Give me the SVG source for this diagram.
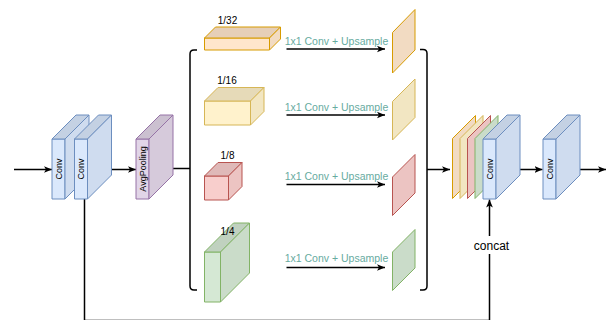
<svg xmlns="http://www.w3.org/2000/svg" width="607" height="320" viewBox="0 0 607 320">
<style>
text{font-family:"Liberation Sans",Arial,sans-serif;}
.lbl{font-size:10px;fill:#000;text-anchor:middle;}
.op{font-size:10.5px;fill:#67AB9F;text-anchor:middle;}
.rot{font-size:9px;fill:#000;text-anchor:middle;}
.ln{fill:none;stroke:#000;stroke-width:1.5;}
.arr{fill:none;stroke:#000;stroke-width:1.5;marker-end:url(#ah);}
.b{stroke:#6C8EBF;stroke-width:1;stroke-linejoin:round;}
.b .f{fill:#DAE8FC}.b .s{fill:#CFDCEF}.b .t{fill:#C4D1E3}
.p{stroke:#9673A6;stroke-width:1;stroke-linejoin:round;}
.p .f{fill:#E1D5E7}.p .s{fill:#D6CADB}.p .t{fill:#CBC0D0}
.o{stroke:#D79B00;stroke-width:1;stroke-linejoin:round;}
.o .f{fill:#FFE6CC}.o .s{fill:#F2DBC2}.o .t{fill:#E6CFB8}
.y{stroke:#D6B656;stroke-width:1;stroke-linejoin:round;}
.y .f{fill:#FFF2CC}.y .s{fill:#F2E6C2}.y .t{fill:#E6DAB8}
.r{stroke:#B85450;stroke-width:1;stroke-linejoin:round;}
.r .f{fill:#F8CECC}.r .s{fill:#ECC4C2}.r .t{fill:#DFB9B8}
.g{stroke:#82B366;stroke-width:1;stroke-linejoin:round;}
.g .f{fill:#D5E8D4}.g .s{fill:#CADCC9}.g .t{fill:#C0D1BF}
</style>
<defs>
<marker id="ah" viewBox="0 0 10 10" refX="10" refY="5" markerWidth="8" markerHeight="8" orient="auto" markerUnits="userSpaceOnUse">
<path d="M0,0.8 L10,5 L0,9.2 L2.5,5 z" fill="#000"/>
</marker>
</defs>

<g id="connectors">
<line class="arr" x1="14" y1="169.5" x2="52" y2="169.5"/>
<line class="arr" x1="99" y1="169.5" x2="136" y2="169.5"/>
<line class="ln" x1="158" y1="168.5" x2="190" y2="168.5"/>
<path class="ln" d="M197,50 L194,50 Q190,50 190,54 L190,286 Q190,290 194,290 L197,290"/>
<path class="ln" d="M420,49.5 L423,49.5 Q427,49.5 427,53.5 L427,286 Q427,290 423,290 L420,290"/>
<line class="arr" x1="286.5" y1="49" x2="385" y2="49"/>
<line class="arr" x1="286.5" y1="115" x2="385" y2="115"/>
<line class="arr" x1="286.5" y1="184.5" x2="385" y2="184.5"/>
<line class="arr" x1="286.5" y1="267.5" x2="385" y2="267.5"/>
<line class="arr" x1="427" y1="169.5" x2="450" y2="169.5"/>
<line class="arr" x1="505" y1="169.5" x2="542.5" y2="169.5"/>
<line class="arr" x1="569" y1="169.5" x2="606" y2="169.5"/>
<path class="arr" d="M84.5,199 L84.5,320.5 L489.5,320.5 L489.5,199.5"/>
</g>

<g id="conv1" class="b">
<rect class="f" x="52" y="139" width="13" height="60"/>
<polygon class="t" points="52,139 76,115 89,115 65,139"/>
<polygon class="s" points="65,139 89,115 89,175 65,199"/>
<text class="rot" stroke="none" transform="translate(58.5,169) rotate(-90)" y="3.2">Conv</text>
</g>
<g id="conv2" class="b">
<rect class="f" x="74.5" y="139" width="13" height="60"/>
<polygon class="t" points="74.5,139 98.5,115 111.5,115 87.5,139"/>
<polygon class="s" points="87.5,139 111.5,115 111.5,175 87.5,199"/>
<text class="rot" stroke="none" transform="translate(81,169) rotate(-90)" y="3.2">Conv</text>
</g>
<g id="avgpool" class="p">
<rect class="f" x="136" y="139" width="13" height="60"/>
<polygon class="t" points="136,139 160,115 173,115 149,139"/>
<polygon class="s" points="149,139 173,115 173,175 149,199"/>
<text class="rot" stroke="none" transform="translate(142.5,169) rotate(-90)" y="3.2">AvgPooling</text>
</g>

<g id="feat32" class="o">
<rect class="f" x="204.5" y="38" width="65" height="12"/>
<polygon class="t" points="204.5,38 215.5,27 280.5,27 269.5,38"/>
<polygon class="s" points="269.5,38 280.5,27 280.5,39 269.5,50"/>
<text class="lbl" stroke="none" x="227.5" y="24">1/32</text>
</g>
<g id="feat16" class="y">
<rect class="f" x="204.5" y="101" width="46" height="24"/>
<polygon class="t" points="204.5,101 218,87.5 264,87.5 250.5,101"/>
<polygon class="s" points="250.5,101 264,87.5 264,111.5 250.5,125"/>
<text class="lbl" stroke="none" x="227" y="84">1/16</text>
</g>
<g id="feat8" class="r">
<rect class="f" x="204.5" y="176" width="24" height="24"/>
<polygon class="t" points="204.5,176 218,162.5 242,162.5 228.5,176"/>
<polygon class="s" points="228.5,176 242,162.5 242,186.5 228.5,200"/>
<text class="lbl" stroke="none" x="227.5" y="159">1/8</text>
</g>
<g id="feat4" class="g">
<rect class="f" x="204.5" y="252" width="16" height="50"/>
<polygon class="t" points="204.5,252 233.5,223 249.5,223 220.5,252"/>
<polygon class="s" points="220.5,252 249.5,223 249.5,273 220.5,302"/>
<text class="lbl" stroke="none" x="227.5" y="234.5">1/4</text>
</g>

<g id="op-labels">
<text class="op" x="336.5" y="45">1x1 Conv + Upsample</text>
<text class="op" x="336.5" y="110.5">1x1 Conv + Upsample</text>
<text class="op" x="336.5" y="179.5">1x1 Conv + Upsample</text>
<text class="op" x="336.5" y="262">1x1 Conv + Upsample</text>
</g>

<g id="up32" class="o"><polygon class="s" points="392.5,32.5 415,9.5 415,50 392.5,73"/></g>
<g id="up16" class="y"><polygon class="s" points="392.5,101.5 415,79 415,117.5 392.5,140"/></g>
<g id="up8" class="r"><polygon class="s" points="392.5,177 415,154.5 415,193 392.5,215.5"/></g>
<g id="up4" class="g"><polygon class="s" points="392.5,252 415,229.5 415,268 392.5,290.5"/></g>

<g id="concat-stack">
<g class="o"><polygon class="s" points="452.5,138.5 475.5,115.5 475.5,175.5 452.5,198.5"/></g>
<g class="y"><polygon class="s" points="460,138.5 483,115.5 483,175.5 460,198.5"/></g>
<g class="r"><polygon class="s" points="467.5,138.5 490.5,115.5 490.5,175.5 467.5,198.5"/></g>
<g class="g"><polygon class="s" points="475,138.5 498,115.5 498,175.5 475,198.5"/></g>
</g>
<g id="conv3" class="b">
<rect class="f" x="483" y="139" width="13" height="60"/>
<polygon class="t" points="483,139 507,115 520,115 496,139"/>
<polygon class="s" points="496,139 520,115 520,175 496,199"/>
<text class="rot" stroke="none" transform="translate(489.5,169) rotate(-90)" y="3.2">Conv</text>
</g>
<g id="conv4" class="b">
<rect class="f" x="543" y="139" width="13" height="60"/>
<polygon class="t" points="543,139 567,115 580,115 556,139"/>
<polygon class="s" points="556,139 580,115 580,175 556,199"/>
<text class="rot" stroke="none" transform="translate(549.5,169) rotate(-90)" y="3.2">Conv</text>
</g>

<g id="concat-label">
<rect x="472" y="236" width="39" height="18" fill="#fff"/>
<text x="491.5" y="250" font-size="12" text-anchor="middle" fill="#000">concat</text>
</g>
</svg>
